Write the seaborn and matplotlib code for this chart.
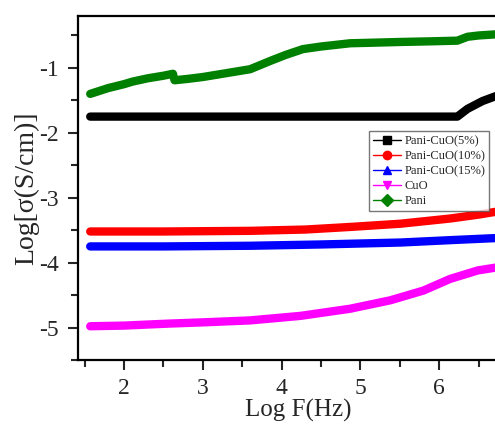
import matplotlib
matplotlib.use('Agg')
import matplotlib.pyplot as plt
import seaborn as sns
import pandas as pd
from matplotlib.lines import Line2D
from matplotlib.ticker import MultipleLocator, FixedLocator

# values (log F in Hz, log conductivity in S/cm)
pani_x = [1.57, 1.8, 2.0, 2.11, 2.3, 2.5, 2.62, 2.64, 2.8, 3.0, 3.2, 3.4, 3.6, 3.86, 4.05, 4.27, 4.5, 4.87, 5.2, 5.51, 5.9, 6.23, 6.36, 6.5, 6.75]
pani_y = [-1.40, -1.31, -1.25, -1.21, -1.16, -1.12, -1.09, -1.19, -1.17, -1.14, -1.10, -1.06, -1.02, -0.89, -0.80, -0.71, -0.67, -0.62, -0.61, -0.60, -0.59, -0.58, -0.52, -0.50, -0.48]

cuo5_x = [1.57, 2.5, 3.5, 4.5, 5.5, 6.0, 6.23, 6.36, 6.55, 6.75]
cuo5_y = [-1.75, -1.75, -1.75, -1.75, -1.75, -1.75, -1.75, -1.63, -1.51, -1.42]

cuo10_x = [1.57, 2.5, 3.6, 4.3, 4.87, 5.51, 6.14, 6.5, 6.75]
cuo10_y = [-3.52, -3.52, -3.51, -3.49, -3.45, -3.40, -3.32, -3.26, -3.21]

cuo15_x = [1.57, 2.5, 3.6, 4.5, 5.51, 6.2, 6.75]
cuo15_y = [-3.75, -3.75, -3.74, -3.72, -3.69, -3.65, -3.62]

cuo_x = [1.57, 2.0, 2.55, 3.0, 3.6, 4.24, 4.87, 5.38, 5.8, 6.14, 6.49, 6.75]
cuo_y = [-4.98, -4.97, -4.94, -4.92, -4.89, -4.82, -4.71, -4.58, -4.43, -4.25, -4.12, -4.07]

x_ticks = [2, 3, 4, 5, 6]
labels = ['Pani-CuO(5%)', 'Pani-CuO(10%)', 'Pani-CuO(15%)', 'CuO', 'Pani']
colors = ['#000000', '#ff0000', '#0000ff', '#ff00ff', '#008000']
markers = ['s', 'o', '^', 'v', 'D']

series = [(cuo5_x, cuo5_y), (cuo10_x, cuo10_y), (cuo15_x, cuo15_y), (cuo_x, cuo_y), (pani_x, pani_y)]
frames = []
for lab, (xs, ys) in zip(labels, series):
    frames.append(pd.DataFrame({'logf': xs, 'sigma': ys, 'sample': lab}))
df = pd.concat(frames, ignore_index=True)

sns.set_style('ticks')
plt.rcParams['font.family'] = ['Liberation Serif', 'DejaVu Serif']
plt.rcParams['axes.unicode_minus'] = False

fig = plt.figure(figsize=(4.95, 4.25), dpi=100)
# axes run past the right edge, the reference is cropped there
ax = fig.add_axes([78 / 495, 65 / 425, 440 / 495, 344 / 425])

sns.lineplot(data=df, x='logf', y='sigma', hue='sample', hue_order=labels,
             palette=dict(zip(labels, colors)), linewidth=6, sort=False,
             estimator=None, legend=False, ax=ax)

ax.set_xlim(1.415, 7.0)
ax.set_ylim(-5.5, -0.2)
ax.xaxis.set_major_locator(FixedLocator(x_ticks))
ax.xaxis.set_minor_locator(MultipleLocator(0.5))
ax.yaxis.set_major_locator(MultipleLocator(1))
ax.yaxis.set_minor_locator(MultipleLocator(0.5))
ax.tick_params(which='major', direction='out', length=7, width=1.5, labelsize=17)
ax.tick_params(axis='y', which='major', pad=7)
ax.tick_params(axis='x', which='major', pad=6)
ax.tick_params(which='minor', direction='out', length=5, width=1.5)
for s in ax.spines.values():
    s.set_linewidth(1.6)
    s.set_color('black')

ax.set_xlabel('Log F(Hz)', fontsize=18, labelpad=0)
ax.set_ylabel('Log[σ(S/cm)]', fontsize=20, labelpad=0)

handles = [Line2D([0], [0], color=c, marker=m, markersize=6, linewidth=1, label=l)
           for l, c, m in zip(labels, colors, markers)]
leg = fig.legend(handles=handles, loc='upper left', bbox_to_anchor=(363 / 495, 1 - 125 / 425),
                 fontsize=9, frameon=True, fancybox=False, handlelength=2.2,
                 handletextpad=0.3, labelspacing=0.25, borderpad=0.3)
leg.get_frame().set_edgecolor('#555555')
leg.get_frame().set_linewidth(1)

fig.savefig('out.png', dpi=100)
plt.close(fig)
